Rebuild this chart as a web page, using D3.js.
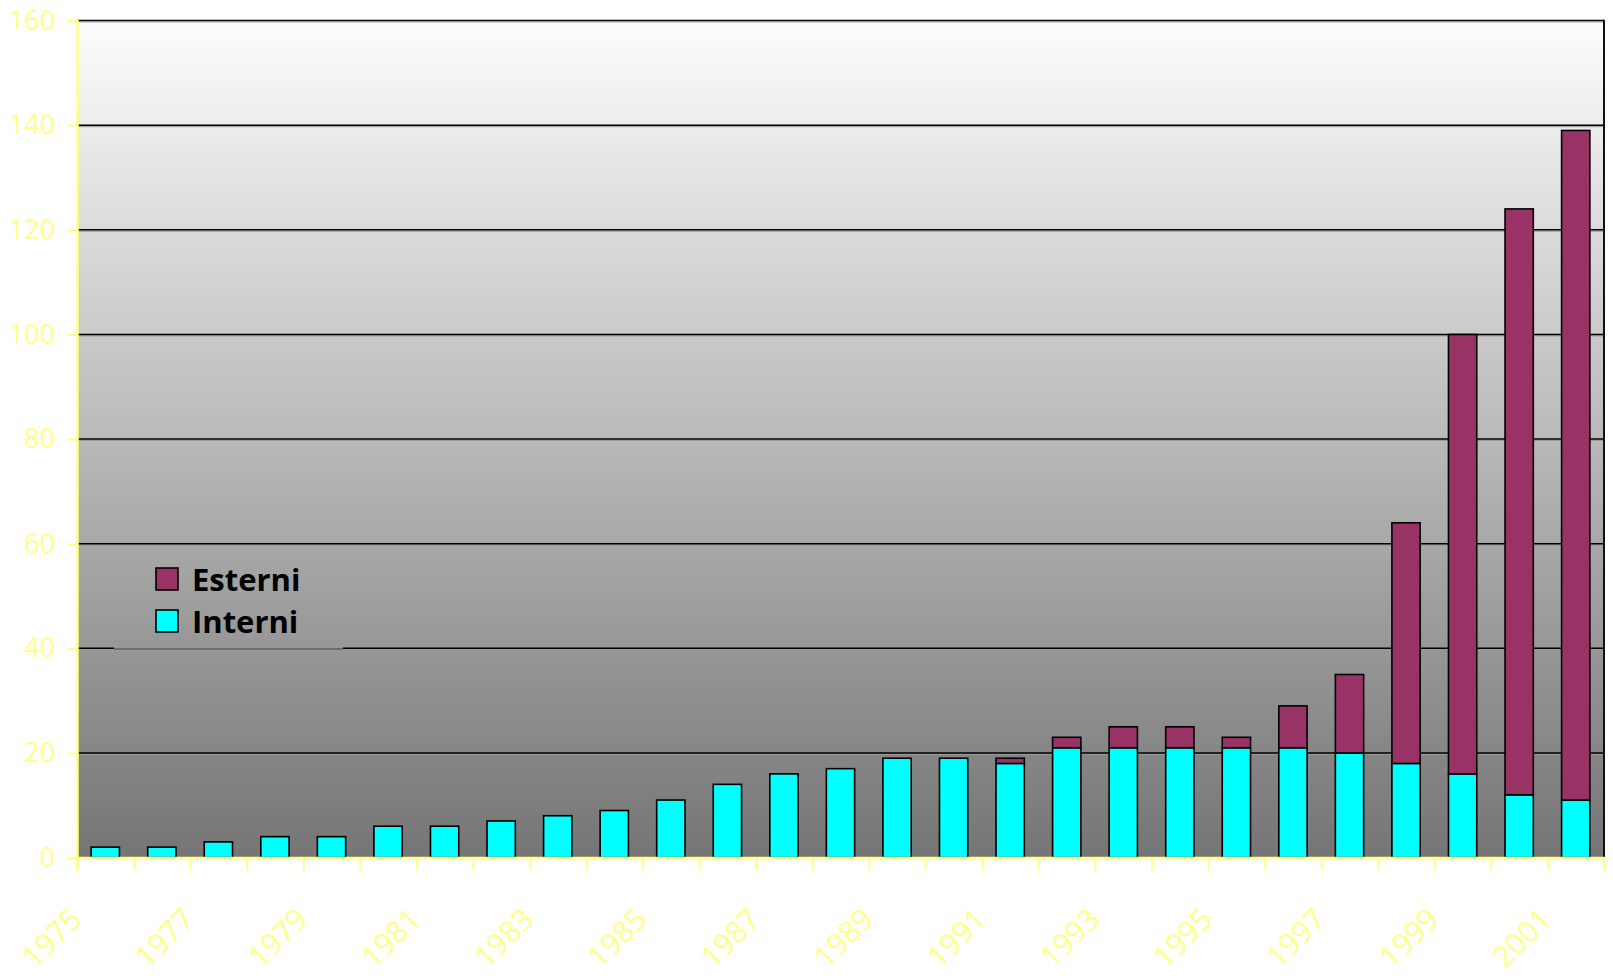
<!DOCTYPE html>
<html>
<head>
<meta charset="utf-8">
<script src="https://cdn.jsdelivr.net/npm/d3@7"></script>
<style>
  html, body { margin: 0; padding: 0; background: #ffffff; }
  svg { display: block; }
</style>
</head>
<body>
<svg id="chart" width="1613" height="980"></svg>
<script>
// Yearly counts, split into internal and external
const years = [1975,1976,1977,1978,1979,1980,1981,1982,1983,1984,1985,1986,1987,1988,
               1989,1990,1991,1992,1993,1994,1995,1996,1997,1998,1999,2000,2001];
const interni = [2,2,3,4,4,6,6,7,8,9,11,14,16,17,19,19,18,21,21,21,21,21,20,18,16,12,11];
const esterni = [0,0,0,0,0,0,0,0,0,0,0,0,0,0,0,0,1,2,4,4,2,8,15,46,84,112,128];
const seriesNames = ["Interni", "Esterni"];
const seriesColors = ["#00ffff", "#993366"];
const yTicks = [0,20,40,60,80,100,120,140,160];
const xLabelYears = years.filter((d, i) => i % 2 === 0);

const FONT = "'Comic Sans MS', 'Open Sans', sans-serif";
const YELLOW = "#ffff88";

const svg = d3.select("#chart");
const plot = { left: 77, right: 1604, top: 20.6, bottom: 857.6 };

const x = d3.scaleBand()
  .domain(years)
  .range([plot.left, plot.right])
  .paddingInner(0.5)
  .paddingOuter(0.25);

const y = d3.scaleLinear()
  .domain([0, 160])
  .range([plot.bottom, plot.top]);

// category boundaries for the tick marks along the bottom
const xEdge = d3.scaleLinear().domain([0, years.length]).range([plot.left, plot.right]);

// plot-area background gradient
const defs = svg.append("defs");
const grad = defs.append("linearGradient")
  .attr("id", "bg")
  .attr("gradientUnits", "userSpaceOnUse")
  .attr("x1", 0).attr("y1", plot.top)
  .attr("x2", 0).attr("y2", plot.bottom);
grad.append("stop").attr("offset", "0%").attr("stop-color", "#fdfdfd");
grad.append("stop").attr("offset", "100%").attr("stop-color", "#757575");

svg.append("rect")
  .attr("x", plot.left).attr("y", plot.top)
  .attr("width", plot.right - plot.left).attr("height", plot.bottom - plot.top)
  .attr("fill", "url(#bg)");

// horizontal gridlines
const grid = svg.append("g");
grid.selectAll("line.shadow")
  .data(yTicks.filter(d => d > 0))
  .join("line")
  .attr("class", "shadow")
  .attr("x1", plot.left).attr("x2", plot.right)
  .attr("y1", d => y(d) + 1.4).attr("y2", d => y(d) + 1.4)
  .attr("stroke", "#9a9a9a").attr("stroke-width", 1);
grid.selectAll("line.major")
  .data(yTicks.filter(d => d > 0))
  .join("line")
  .attr("class", "major")
  .attr("x1", plot.left).attr("x2", plot.right)
  .attr("y1", d => y(d)).attr("y2", d => y(d))
  .attr("stroke", "#000").attr("stroke-width", 1.5);

// right border of the plot area
svg.append("line")
  .attr("x1", plot.right).attr("x2", plot.right)
  .attr("y1", plot.top - 0.75).attr("y2", plot.bottom)
  .attr("stroke", "#111").attr("stroke-width", 2);

// legend box (drawn over the gridline, same fill as the plot)
const legend = { x0: 114, x1: 343, y0: 552, y1: 649 };
svg.append("rect")
  .attr("x", legend.x0).attr("y", legend.y0)
  .attr("width", legend.x1 - legend.x0).attr("height", legend.y1 - legend.y0)
  .attr("fill", "url(#bg)");
svg.append("line")
  .attr("x1", legend.x0).attr("x2", legend.x1)
  .attr("y1", legend.y1).attr("y2", legend.y1)
  .attr("stroke", "#454545").attr("stroke-width", 1);

// stacked bars
const stackData = years.map((yr, i) => ({ year: yr, Interni: interni[i], Esterni: esterni[i] }));
const stacked = d3.stack().keys(seriesNames)(stackData);

svg.append("g")
  .selectAll("g")
  .data(stacked)
  .join("g")
  .attr("fill", (d, i) => seriesColors[i])
  .selectAll("rect")
  .data(d => d.filter(s => s[1] - s[0] > 0))
  .join("rect")
  .attr("x", d => x(d.data.year))
  .attr("y", d => y(d[1]))
  .attr("width", x.bandwidth())
  .attr("height", d => y(d[0]) - y(d[1]))
  .attr("stroke", "#000")
  .attr("stroke-width", 1.6);

// y axis
const yAxis = svg.append("g")
  .attr("transform", `translate(${plot.left},0)`)
  .call(d3.axisLeft(y).tickValues(yTicks).tickSize(9).tickPadding(13).tickFormat(d3.format("d")));
yAxis.select(".domain").attr("stroke", YELLOW).attr("stroke-width", 2.5);
yAxis.selectAll(".tick line").attr("stroke", YELLOW).attr("stroke-width", 2);
yAxis.selectAll(".tick text")
  .attr("fill", YELLOW)
  .style("font-family", FONT)
  .style("font-size", "27px");

// x axis: ticks on category boundaries
const xAxis = svg.append("g")
  .attr("transform", `translate(0,${plot.bottom})`)
  .call(d3.axisBottom(xEdge).tickValues(d3.range(0, years.length + 1)).tickSize(13).tickFormat(""));
xAxis.select(".domain").attr("stroke", YELLOW).attr("stroke-width", 2.5);
xAxis.selectAll(".tick line").attr("stroke", YELLOW).attr("stroke-width", 2);

// rotated year labels
svg.append("g")
  .selectAll("text")
  .data(xLabelYears)
  .join("text")
  .attr("transform", d => `translate(${x(d) + x.bandwidth() / 2 - 22},921) rotate(-45)`)
  .attr("text-anchor", "end")
  .attr("fill", YELLOW)
  .style("font-family", FONT)
  .style("font-size", "30px")
  .text(d => d);

// legend entries
const legendItems = [
  { name: "Esterni", color: seriesColors[1], y: 568 },
  { name: "Interni", color: seriesColors[0], y: 610 }
];
const li = svg.append("g").selectAll("g").data(legendItems).join("g");
li.append("rect")
  .attr("x", 156).attr("y", d => d.y)
  .attr("width", 22).attr("height", 22)
  .attr("fill", d => d.color)
  .attr("stroke", "#000").attr("stroke-width", 1.6);
li.append("text")
  .attr("x", 192).attr("y", d => d.y + 23)
  .attr("fill", "#000")
  .style("font-family", FONT)
  .style("font-weight", "bold")
  .style("font-size", "31px")
  .text(d => d.name);
</script>
</body>
</html>
